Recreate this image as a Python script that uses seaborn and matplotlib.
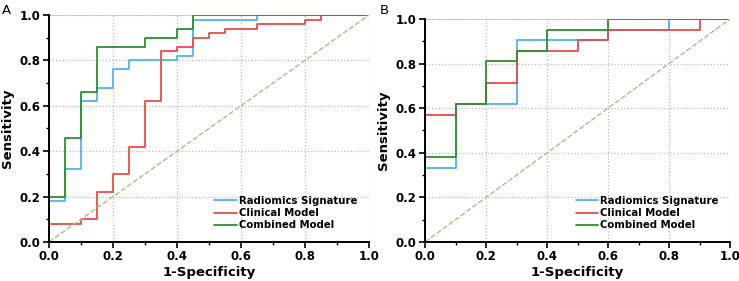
import pandas as pd
import numpy as np
import matplotlib
matplotlib.use("Agg")
from matplotlib import pyplot as plt
from matplotlib.ticker import MultipleLocator
import seaborn as sns

# Panel A (ROC vertices: 1-specificity, sensitivity)
a_rad_x = [0, 0, 0.05, 0.05, 0.10, 0.10, 0.15, 0.15, 0.20, 0.20, 0.25, 0.25, 0.40, 0.40, 0.45, 0.45, 0.65, 0.65, 1.0]
a_rad_y = [0, 0.18, 0.18, 0.32, 0.32, 0.62, 0.62, 0.68, 0.68, 0.76, 0.76, 0.80, 0.80, 0.82, 0.82, 0.98, 0.98, 1.0, 1.0]
a_cli_x = [0, 0, 0.10, 0.10, 0.15, 0.15, 0.20, 0.20, 0.25, 0.25, 0.30, 0.30, 0.35, 0.35, 0.40, 0.40, 0.45, 0.45,
           0.50, 0.50, 0.55, 0.55, 0.65, 0.65, 0.80, 0.80, 0.85, 0.85, 1.0]
a_cli_y = [0, 0.08, 0.08, 0.10, 0.10, 0.22, 0.22, 0.30, 0.30, 0.42, 0.42, 0.62, 0.62, 0.84, 0.84, 0.86, 0.86, 0.90,
           0.90, 0.92, 0.92, 0.94, 0.94, 0.96, 0.96, 0.98, 0.98, 1.0, 1.0]
a_com_x = [0, 0, 0.05, 0.05, 0.10, 0.10, 0.15, 0.15, 0.30, 0.30, 0.40, 0.40, 0.45, 0.45, 1.0]
a_com_y = [0, 0.20, 0.20, 0.46, 0.46, 0.66, 0.66, 0.86, 0.86, 0.90, 0.90, 0.94, 0.94, 1.0, 1.0]

# Panel B
b_rad_x = [0, 0, 0.10, 0.10, 0.30, 0.30, 0.60, 0.60, 0.80, 0.80, 1.0]
b_rad_y = [0, 0.333, 0.333, 0.619, 0.619, 0.905, 0.905, 0.952, 0.952, 1.0, 1.0]
b_cli_x = [0, 0, 0.10, 0.10, 0.20, 0.20, 0.30, 0.30, 0.50, 0.50, 0.60, 0.60, 0.90, 0.90, 1.0]
b_cli_y = [0, 0.571, 0.571, 0.619, 0.619, 0.714, 0.714, 0.857, 0.857, 0.905, 0.905, 0.952, 0.952, 1.0, 1.0]
b_com_x = [0, 0, 0.10, 0.10, 0.20, 0.20, 0.30, 0.30, 0.40, 0.40, 0.60, 0.60, 1.0]
b_com_y = [0, 0.381, 0.381, 0.619, 0.619, 0.810, 0.810, 0.857, 0.857, 0.952, 0.952, 1.0, 1.0]

labels = ["Radiomics Signature", "Clinical Model", "Combined Model"]
colors = ["#4db6ea", "#ea4a4d", "#2f8f2f"]

panels = {
    "A": [(a_rad_x, a_rad_y), (a_cli_x, a_cli_y), (a_com_x, a_com_y)],
    "B": [(b_rad_x, b_rad_y), (b_cli_x, b_cli_y), (b_com_x, b_com_y)],
}

sns.set_style("white")
plt.rcParams["font.family"] = ["DejaVu Sans"]
plt.rcParams["text.color"] = "black"
plt.rcParams["axes.labelcolor"] = "black"
plt.rcParams["xtick.color"] = "black"
plt.rcParams["ytick.color"] = "black"

fig = plt.figure(figsize=(7.39, 2.81), dpi=100)
ax_pos = {"A": [49 / 739, 1 - 242 / 281, 320 / 739, 227 / 281],
          "B": [425 / 739, 1 - 242 / 281, 305 / 739, 223 / 281]}
letter_pos = {"A": (2 / 739, 1 - 14 / 281), "B": (380 / 739, 1 - 14 / 281)}

for key, curves in panels.items():
    ax = fig.add_axes(ax_pos[key])
    for i in range(len(curves)):
        x, y = curves[i]
        df = pd.DataFrame({"fpr": x, "tpr": y})
        sns.lineplot(data=df, x="fpr", y="tpr", ax=ax, sort=False, estimator=None,
                     color=colors[i], linewidth=1.3, label=labels[i])
    ax.plot([0, 1], [0, 1], linestyle="--", color="#bfb486", linewidth=1.0)
    ax.set_xlim(0, 1)
    ax.set_ylim(0, 1)
    ax.xaxis.set_major_locator(MultipleLocator(0.2))
    ax.yaxis.set_major_locator(MultipleLocator(0.2))
    ax.xaxis.set_minor_locator(MultipleLocator(0.1))
    ax.yaxis.set_minor_locator(MultipleLocator(0.1))
    ax.grid(True, which="major", linestyle=":", color="#bbbbbb", linewidth=0.9)
    ax.axhline(1.0, color="#cfcfcf", linewidth=1.3, zorder=0)
    ax.set_axisbelow(True)
    for s in ["top", "right"]:
        ax.spines[s].set_visible(False)
    for s in ["left", "bottom"]:
        ax.spines[s].set_color("black")
        ax.spines[s].set_linewidth(1.4)
    ax.tick_params(which="major", direction="out", length=4, width=1.2, labelsize=8.5,
                   bottom=True, left=True, pad=2)
    ax.tick_params(which="minor", direction="out", length=2.5, width=1.0, bottom=True, left=True)
    for lab in ax.get_xticklabels() + ax.get_yticklabels():
        lab.set_fontweight("bold")
    ax.set_xlabel("1-Specificity", fontsize=9.5, fontweight="bold", labelpad=2)
    ax.set_ylabel("Sensitivity", fontsize=9.5, fontweight="bold", labelpad=4)
    ax.legend(loc="lower right", frameon=False, prop={"size": 7.3, "weight": "bold"},
              handlelength=2.2, handletextpad=0.2, labelspacing=0.22,
              borderaxespad=0.3, bbox_to_anchor=(0.985, 0.02))
    fig.text(letter_pos[key][0], letter_pos[key][1], key, fontsize=9.5)

fig.savefig("out.png", dpi=100)
